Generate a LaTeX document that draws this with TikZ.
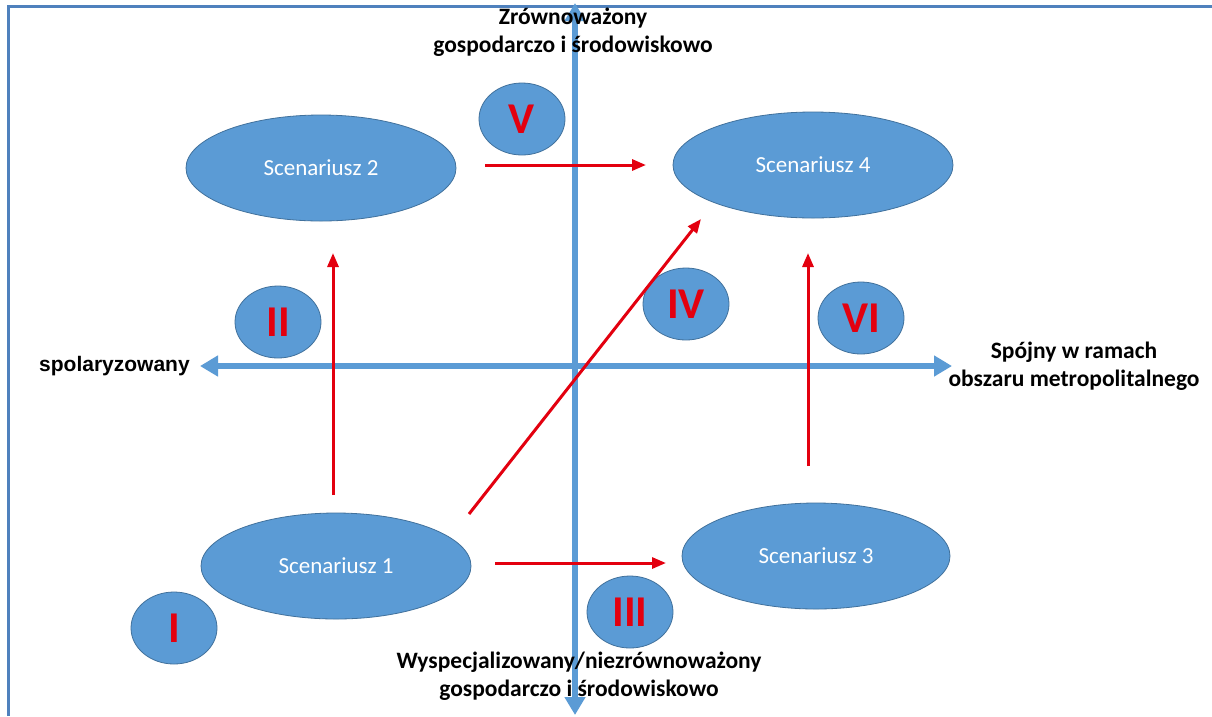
\documentclass[tikz,border=0pt]{standalone}
\usepackage{fontspec}
\setmainfont{Carlito}
\newfontfamily\arialfont{Liberation Sans}
\usetikzlibrary{arrows.meta,shapes.geometric}
\definecolor{axblue}{HTML}{5B9BD5}
\definecolor{elborder}{HTML}{41719C}
\definecolor{arred}{HTML}{E3000F}
\definecolor{frameblue}{HTML}{4F81BD}
\tikzset{
  scen/.style={ellipse,fill=axblue,draw=elborder,line width=0.8pt,minimum width=#1,minimum height=106pt,inner sep=0pt,text=white,font=\fontsize{23}{26}\selectfont},
  roman/.style={ellipse,fill=axblue,draw=elborder,line width=0.8pt,minimum width=86pt,minimum height=72pt,inner sep=0pt,text=arred,font=\fontsize{44}{46}\selectfont\bfseries},
  axis/.style={draw=axblue,line width=6pt,{Triangle[length=18pt,width=20pt]}-{Triangle[length=18pt,width=20pt]}},
  move/.style={draw=arred,line width=3pt,-{Triangle[length=14pt,width=11pt]}},
  lab/.style={align=center,font=\fontsize{23.5}{28}\selectfont\bfseries,text=black,inner sep=0pt}
}
\begin{document}
\begin{tikzpicture}[x=1pt,y=-1pt]
\useasboundingbox (0,0) rectangle (1212,716);
\fill[white] (0,0) rectangle (1212,716);
% frame
\draw[frameblue,line width=3pt] (8.5,716) -- (8.5,6.5) -- (1212,6.5);
% axes
\coordinate (top) at (575,3);
\coordinate (bot) at (575,715);
\coordinate (left) at (200,366);
\coordinate (right) at (952,366);
\draw[axis] (bot) -- (top);
\draw[axis] (left) -- (right);
% scenario ellipses
\node[scen=270pt] (s2) at (321,168) {Scenariusz 2};
\node[scen=280pt] (s4) at (813,165) {Scenariusz 4};
\node[scen=270pt] (s1) at (336,566) {Scenariusz 1};
\node[scen=268pt] (s3) at (816,556) {Scenariusz 3};
% roman ellipses
\node[roman] (rV) at (522,119) {V};
\node[roman] (rII) at (278,322) {II};
\node[roman] (rIV) at (686,304) {IV};
\node[roman] (rVI) at (861,318) {VI};
\node[roman] (rI) at (174,628) {I};
\node[roman] (rIII) at (630,612) {III};
% red transitions
\coordinate (a1) at (485,165); \coordinate (a2) at (646,165);
\coordinate (b1) at (333,495); \coordinate (b2) at (333,253);
\coordinate (c1) at (469,514); \coordinate (c2) at (701,219);
\coordinate (d1) at (808,466); \coordinate (d2) at (808,253);
\coordinate (e1) at (495,563); \coordinate (e2) at (666,563);
\draw[move] (a1) -- (a2);
\draw[move] (b1) -- (b2);
\draw[move] (c1) -- (c2);
\draw[move] (d1) -- (d2);
\draw[move] (e1) -- (e2);
% labels
\node[lab] (ltop) at (573,32) {Zrównoważony\\gospodarczo i środowiskowo};
\node[lab,font=\arialfont\fontsize{21}{24}\selectfont\bfseries,anchor=west] (lleft) at (39,366) {spolaryzowany};
\node[lab] (lright) at (1074,366) {Spójny w ramach\\obszaru metropolitalnego};
\node[lab] (lbot) at (579,676) {Wyspecjalizowany/niezrównoważony\\gospodarczo i środowiskowo};
\end{tikzpicture}
\end{document}
